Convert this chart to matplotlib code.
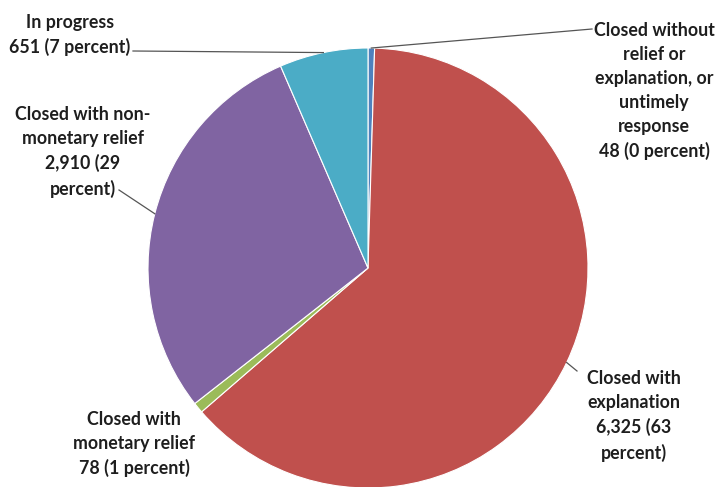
import numpy as np
import matplotlib
matplotlib.use("Agg")
import matplotlib.pyplot as plt

W, H = 718, 487

labels = [
    "Closed without\nrelief or\nexplanation, or\nuntimely\nresponse\n48 (0 percent)",
    "Closed with\nexplanation\n6,325 (63\npercent)",
    "Closed with\nmonetary relief\n78 (1 percent)",
    "Closed with non-\nmonetary relief\n2,910 (29\npercent)",
    "In progress\n651 (7 percent)",
]
counts = [48, 6325, 78, 2910, 651]
colors = ["#4F81BD", "#C0504D", "#9BBB59", "#8064A2", "#4BACC6"]

# label placement in pixel space (x, y from top), leader-line start (None = no line)
label_xy = [(654, 91), (634, 416), (134, 444), (83, 152), (70, 35)]
leader_from = [(592, 29), (577, 371), None, (119, 190), (133, 51)]

cx, cy, r = 368, 268, 220

fig = plt.figure(figsize=(W / 100, H / 100), dpi=100)
ax = fig.add_axes([0, 0, 1, 1])
wedges, _ = ax.pie(counts, colors=colors, startangle=90, counterclock=False,
                   center=(cx, H - cy), radius=r,
                   wedgeprops=dict(edgecolor="white", linewidth=0.8))
ax.set_xlim(0, W)
ax.set_ylim(0, H)
ax.set_aspect("equal")
ax.axis("off")

for w, lab, (tx, ty), lf in zip(wedges, labels, label_xy, leader_from):
    ax.text(tx, H - ty, lab, ha="center", va="center", multialignment="center",
            fontsize=12.8, fontweight="bold", family="Lato", color="#1e1e1e",
            linespacing=1.5)
    if lf is not None:
        mid = np.deg2rad((w.theta1 + w.theta2) / 2)
        ex = cx + r * np.cos(mid)
        ey = (H - cy) + r * np.sin(mid)
        ax.plot([lf[0], ex], [H - lf[1], ey], color="#555555", linewidth=0.9)

fig.savefig("out.png", dpi=100)
